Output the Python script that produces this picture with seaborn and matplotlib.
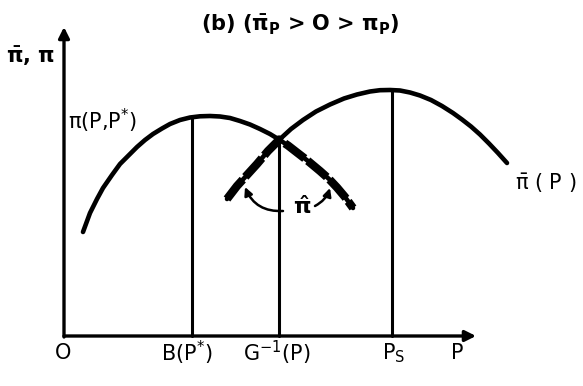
import numpy as np
import pandas as pd
import matplotlib
matplotlib.use("Agg")
import matplotlib.pyplot as plt
import seaborn as sns

# ---- data (P on x, profit on y) ----
pi_P = [1.9, 2.6, 3.3, 3.9, 4.8, 5.6, 6.5, 7.3, 8.1, 8.9, 9.8, 10.6, 11.6, 12.6, 13.6,
        14.6, 15.6, 16.6, 17.6, 18.6, 19.6, 20.6, 21.5, 22.4, 23.3, 24.4, 25.6, 26.5,
        27.3, 28.1, 28.9]
pi_V = [10.4, 12.3, 13.7, 14.8, 16.1, 17.2, 18.1, 18.9, 19.6, 20.2, 20.75, 21.2, 21.6,
        21.85, 21.97, 22.0, 21.95, 21.8, 21.5, 21.15, 20.7, 20.2, 19.65, 19.05, 18.35,
        17.5, 16.5, 15.7, 14.85, 13.9, 12.8]

pibar_P = [16.3, 17.3, 18.3, 19.3, 20.4, 21.5, 22.7, 23.9, 25.2, 26.6, 28.0, 29.3, 30.6,
           31.6, 32.6, 33.6, 34.6, 35.6, 36.7, 37.8, 38.9, 39.8, 40.7, 41.6, 42.5, 43.4, 44.3]
pibar_V = [13.7, 15.0, 16.1, 17.2, 18.5, 19.6, 20.7, 21.6, 22.45, 23.15, 23.75, 24.15,
           24.45, 24.58, 24.6, 24.55, 24.35, 24.05, 23.6, 23.0, 22.3, 21.65, 20.95, 20.15,
           19.25, 18.3, 17.3]

# vertical reference lines: (position, height)
B_star, B_top = 12.8, 21.9
G_inv, G_top = 21.5, 19.65
P_S, PS_top = 32.8, 24.6

x_labels = ["O", "B(P$^{*}$)", "G$^{-1}$(P)", "P$_{S}$", "P"]
x_label_pos = [-0.1, 12.3, 21.3, 33.0, 39.3]

sns.set_theme(style="white")
plt.rcParams["font.family"] = ["DejaVu Sans"]
plt.rcParams["mathtext.fontset"] = "dejavusans"
plt.rcParams["mathtext.default"] = "regular"
plt.rcParams["text.color"] = "black"

fig = plt.figure(figsize=(5.83, 3.86), dpi=100)
ax = fig.add_axes([0, 0, 1, 1])
ax.set_xlim(-6.4, 51.9)
ax.set_ylim(-5.0, 33.6)
ax.axis("off")

lw_curve = 3.3
sns.lineplot(x=pi_P, y=pi_V, sort=False, estimator=None, color="black", lw=lw_curve, ax=ax,
             solid_capstyle="round", solid_joinstyle="round")
sns.lineplot(x=pibar_P, y=pibar_V, sort=False, estimator=None, color="black", lw=lw_curve, ax=ax,
             solid_capstyle="round", solid_joinstyle="round")

# thick hatched envelope (pi-hat) near the crossing
i_cross_bar = pibar_P.index(21.5)
i_cross_pi = pi_P.index(21.5)
env_P = pibar_P[:i_cross_bar + 1] + pi_P[i_cross_pi:]
env_V = pibar_V[:i_cross_bar + 1] + pi_V[i_cross_pi:]
ax.plot(env_P, env_V, color="black", lw=6.0, dashes=(3.0, 0.45), solid_capstyle="butt")

# vertical lines
for xp, top in [(B_star, B_top), (G_inv, G_top), (P_S, PS_top)]:
    ax.plot([xp, xp], [0, top], color="black", lw=2.2)

# axes with arrows
arrow_kw = dict(arrowstyle="-|>", lw=2.4, color="black", mutation_scale=16, shrinkA=0, shrinkB=0)
ax.annotate("", xy=(41.2, 0), xytext=(0, 0), arrowprops=arrow_kw)
ax.annotate("", xy=(0, 30.9), xytext=(0, -0.1), arrowprops=arrow_kw)

# arc with arrows for pi-hat
ax.annotate("", xy=(18.1, 14.9), xytext=(21.9, 12.5),
            arrowprops=dict(arrowstyle="-|>", lw=1.8, color="black", mutation_scale=12,
                            connectionstyle="arc3,rad=-0.35", shrinkA=0, shrinkB=0))
ax.annotate("", xy=(26.6, 14.8), xytext=(25.1, 13.0),
            arrowprops=dict(arrowstyle="-|>", lw=1.8, color="black", mutation_scale=12,
                            connectionstyle="arc3,rad=0.2", shrinkA=0, shrinkB=0))

fs = 15
ax.text(23.6, 31.1, r"(b) ($\bar{\pi}_{P}$ > O > $\pi_{P}$)", ha="center", va="center",
        fontsize=fs, fontweight="bold", color="black")
ax.text(-3.4, 28.0, r"$\bar{\pi}$, $\pi$", ha="center", va="center", fontsize=fs,
        fontweight="bold", color="black")
ax.text(0.4, 21.5, r"$\pi$(P,P$^{*}$)", ha="left", va="center", fontsize=fs, color="black")
ax.text(48.2, 15.3, r"$\bar{\pi}$ ( P )", ha="center", va="center", fontsize=fs, color="black")
ax.text(23.8, 12.9, r"$\hat{\pi}$", ha="center", va="center", fontsize=16,
        fontweight="bold", color="black")

for lab, xp in zip(x_labels, x_label_pos):
    ax.text(xp, -1.7, lab, ha="center", va="center", fontsize=fs, color="black")

fig.savefig("out.png", dpi=100, facecolor="white")
